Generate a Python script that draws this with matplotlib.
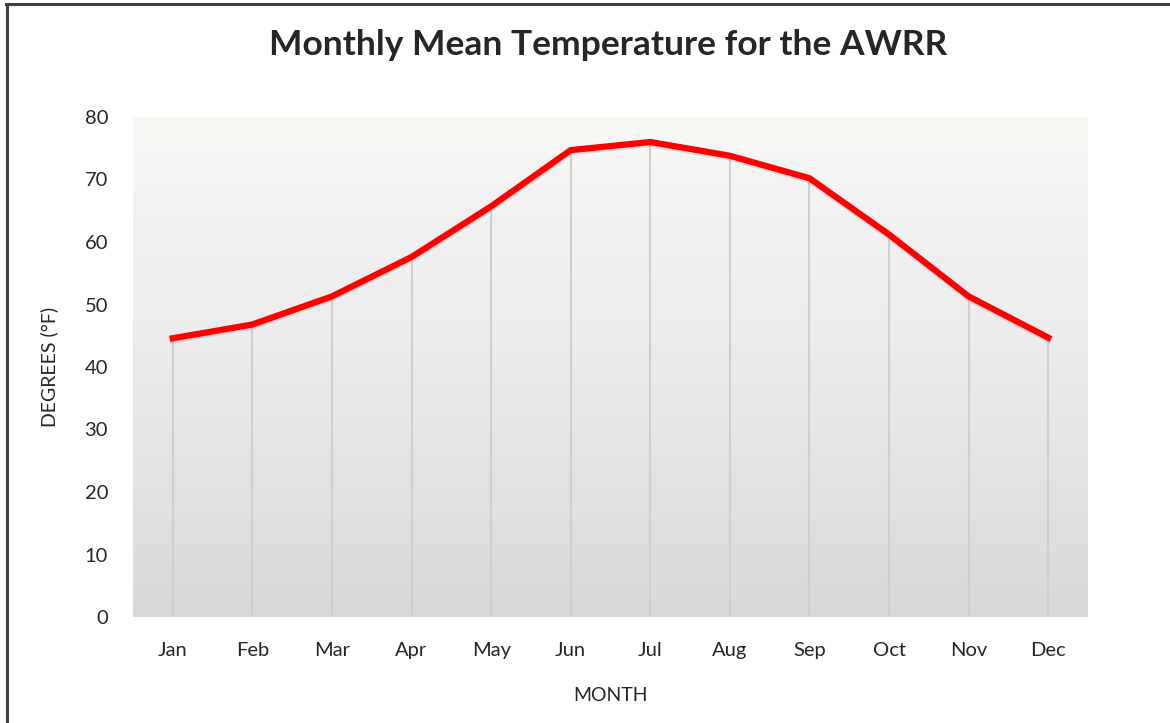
import matplotlib
matplotlib.use("Agg")
import matplotlib.pyplot as plt
import matplotlib.patheffects as pe
import numpy as np
from matplotlib.colors import LinearSegmentedColormap
from matplotlib.lines import Line2D

months = ["Jan", "Feb", "Mar", "Apr", "May", "Jun", "Jul", "Aug", "Sep", "Oct", "Nov", "Dec"]
temps = [44.6, 46.8, 51.3, 57.6, 65.7, 74.7, 76.0, 73.8, 70.2, 61.2, 51.3, 44.7]
yticks = [0, 10, 20, 30, 40, 50, 60, 70, 80]

title = "Monthly Mean Temperature for the AWRR"
xlabel = "MONTH"
ylabel = "DEGREES (°F)"

plt.rcParams['font.family'] = ['Lato', 'DejaVu Sans']

fig = plt.figure(figsize=(11.7, 7.23), dpi=100)
fig.patch.set_facecolor("white")
ax = fig.add_axes([133/1170, 1 - 617/723, (1088-133)/1170, 500/723])

x = np.arange(len(months))
ax.set_xlim(-0.5, len(months) - 0.5)
ax.set_ylim(0, 80)

# gradient background
cmap = LinearSegmentedColormap.from_list(
    "bg", [(0.0, "#d9d9d9"), (0.55, "#ececec"), (0.85, "#f3f3f3"), (1.0, "#f9faf6")])
grad = np.linspace(0, 1, 256).reshape(-1, 1)
ax.imshow(grad, cmap=cmap, origin="lower", aspect="auto",
          extent=[0, 1, 0, 1], transform=ax.transAxes, zorder=0)

# drop lines
ax.vlines(x, 0, temps, colors="#cfcfcf", lw=1.5, zorder=1)

ax.plot(x, temps, color="#ff0000", lw=4.5, solid_joinstyle="miter", zorder=3,
        path_effects=[pe.SimpleLineShadow(offset=(0, -1.5), shadow_color="#000000", alpha=0.10, rho=1),
                      pe.Normal()])

ax.set_xticks(x)
ax.set_xticklabels(months)
ax.set_yticks(yticks)
ax.tick_params(axis="both", length=0, labelsize=14.5, colors="#262626")
ax.tick_params(axis="x", pad=18)
ax.tick_params(axis="y", pad=18)
for s in ax.spines.values():
    s.set_visible(False)

ax.set_xlabel(xlabel, fontsize=14, color="#262626", labelpad=20)
ax.set_ylabel(ylabel, fontsize=14, color="#262626", labelpad=19)

fig.text(608/1170, 1 - 45/723, title, ha="center", va="center",
         fontsize=25.5, fontweight="bold", color="#262626")

# outer border (top and left visible)
fig.add_artist(Line2D([6/1170, 1], [1 - 4/723, 1 - 4/723], color="#404040", lw=2.2,
                      transform=fig.transFigure))
fig.add_artist(Line2D([7/1170, 7/1170], [0, 1 - 4/723], color="#404040", lw=2.2,
                      transform=fig.transFigure))

fig.savefig("out.png", dpi=100)
